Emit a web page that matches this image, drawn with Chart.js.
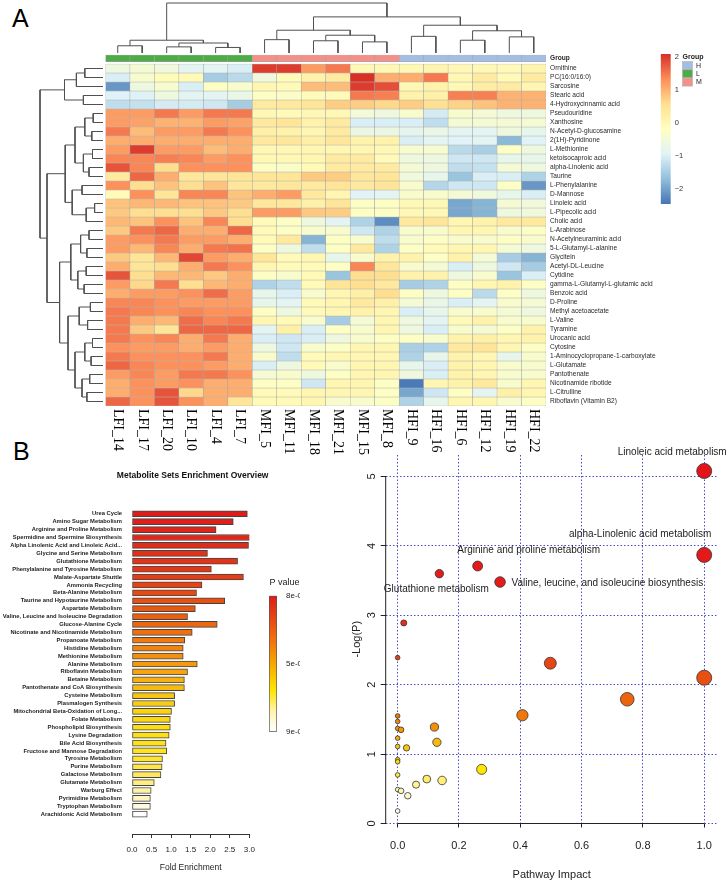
<!DOCTYPE html>
<html>
<head>
<meta charset="utf-8">
<script src="https://cdn.jsdelivr.net/npm/chart.js@4.4.1/dist/chart.umd.min.js"></script>
<style>
  body { margin: 0; background: #fff; width: 728px; height: 882px; position: relative; overflow: hidden; }
  canvas { position: absolute; }
  .tag { position: absolute; font: 25px "Liberation Sans", Arial, sans-serif; line-height: 25px; color: #000; }
</style>
</head>
<body>
<div class="tag" style="left:12px;top:6px">A</div>
<div class="tag" style="left:13px;top:439px">B</div>
<canvas id="colTree" width="450" height="54" style="left:100px;top:0px"></canvas>
<canvas id="rowTree" width="72" height="350" style="left:34px;top:60px"></canvas>
<canvas id="heat" width="560" height="430" style="left:100px;top:45px"></canvas>
<canvas id="heatKey" width="78" height="170" style="left:650px;top:45px"></canvas>
<canvas id="bars" width="300" height="442" style="left:0px;top:440px"></canvas>
<canvas id="pKey" width="50" height="180" style="left:250px;top:568px"></canvas>
<canvas id="bubbles" width="388" height="442" style="left:340px;top:440px"></canvas>
<script>
// ---- panel A : heatmap ----
const cols = ['LFI_14','LFI_17','LFI_20','LFI_10','LFI_4','LFI_7','MFI_5','MFI_11','MFI_18','MFI_21','MFI_15','MFI_8','HFI_9','HFI_16','HFI_6','HFI_12','HFI_19','HFI_22'];
const groups = ['L','L','L','L','L','L','M','M','M','M','M','M','H','H','H','H','H','H'];
const metabolites = ['Ornithine','PC(16:0/16:0)','Sarcosine','Stearic acid','4-Hydroxycinnamic acid','Pseudouridine','Xanthosine',
  'N-Acetyl-D-glucosamine','2(1H)-Pyridinone','L-Methionine','ketoisocaproic acid','alpha-Linolenic acid','Taurine','L-Phenylalanine',
  'D-Mannose','Linoleic acid','L-Pipecolic acid','Cholic acid','L-Arabinose','N-Acetylneuraminic acid','5-L-Glutamyl-L-alanine',
  'Glycitein','Acetyl-DL-Leucine','Cytidine','gamma-L-Glutamyl-L-glutamic acid','Benzoic acid','D-Proline','Methyl acetoacetate',
  'L-Valine','Tyramine','Urocanic acid','Cytosine','1-Aminocyclopropane-1-carboxylate','L-Glutamate','Pantothenate',
  'Nicotinamide ribotide','L-Citrulline','Riboflavin (Vitamin B2)'];
const zscores = [
  [-0.6,-0.45,-0.55,-0.85,-0.85,-1.0, 2.0,2.0,1.2, 1.5,0.0,0.0,0.0,0.1,0.0,0.0,-0.05,0.1],
  [-1.0,-0.35,-0.1,-0.05,-1.5,-1.3, -0.6,-0.1,0.15, 0.3,2.1,1.05,1.05,1.5,0.0,0.3,-0.05,0.3],
  [-2.1,-0.6,-0.4,-1.0,-0.25,-0.35, 0.05,-0.05,0.9, 0.9,2.0,1.85,0.0,0.15,0.0,0.25,0.3,0.05],
  [-0.95,-0.95,-0.6,-0.85,-0.85,-0.7, -0.25,-0.3,-0.05, -0.05,1.5,1.45,0.15,0.2,1.45,1.45,1.0,1.0],
  [-1.25,-1.2,-1.05,-1.05,-1.1,-1.5, 0.3,0.35,0.45, 0.75,0.75,0.65,0.75,0.55,0.7,0.85,1.0,1.0],
  [1.2,1.2,1.5,1.2,1.5,1.5, 0.0,-0.05,0.0, 0.0,-0.5,-0.6,-0.35,-1.05,-0.35,-0.45,-0.6,-0.6],
  [1.2,1.15,1.0,1.0,1.2,1.15, 0.35,0.45,0.15, 0.3,-1.0,-1.0,-1.0,-1.25,-0.45,-0.45,-0.45,-0.45],
  [1.5,0.9,1.2,1.2,1.5,1.3, 0.2,0.15,0.05, 0.3,-0.65,-0.65,-0.8,-0.7,-0.85,-0.85,-0.6,-0.75],
  [1.05,1.05,1.05,1.05,1.05,1.05, 0.35,0.4,0.2, 0.4,0.15,0.15,-1.0,-0.85,-0.9,-0.85,-1.75,-0.9],
  [1.2,2.0,1.2,1.2,0.9,1.05, 0.0,0.0,0.05, 0.05,0.05,0.0,-0.4,-0.4,-1.3,-1.45,-0.25,-0.6],
  [1.4,1.4,1.45,1.4,1.2,1.3, 0.0,0.0,0.05, 0.3,0.3,-0.05,-0.6,-0.6,-1.1,-1.1,-0.75,-0.75],
  [1.8,1.4,0.6,1.3,1.3,1.3, -0.25,-0.3,-0.05, 0.3,0.3,0.3,-0.45,-0.6,-1.25,-1.2,-0.45,-0.6],
  [0.35,1.65,1.05,0.4,0.45,0.45, 0.45,0.45,0.8, 0.75,0.4,0.45,-0.55,-0.75,-1.6,-1.0,-1.0,-1.4],
  [1.3,0.6,0.85,0.6,0.85,0.4, 0.35,0.4,0.35, 0.45,0.35,0.45,-0.35,-1.35,-1.1,-1.1,-0.25,-2.1],
  [-0.05,1.3,0.45,1.4,1.4,0.85, 1.05,1.2,0.35, 0.05,-0.9,-0.85,-0.35,-0.35,-0.45,-0.55,-0.75,-1.0],
  [0.85,0.95,0.95,0.85,0.85,0.8, 0.4,0.4,0.2, 0.45,-0.25,-0.25,0.0,0.0,-1.95,-1.8,-0.45,-0.55],
  [0.8,0.6,0.6,0.6,0.8,0.6, 1.2,1.2,0.8, 0.75,-0.25,-0.25,0.0,0.0,-1.95,-1.8,-0.6,-0.55],
  [0.95,0.85,1.3,0.85,1.4,0.6, -0.05,-0.25,-0.6, -0.85,-1.4,-2.2,0.35,0.45,0.05,0.15,0.35,0.35],
  [0.8,1.5,1.65,1.05,1.05,1.65, -0.05,-0.25,-0.35, -0.35,-1.1,-1.4,-0.35,-0.35,0.05,0.05,-0.35,-0.25],
  [1.2,1.3,1.5,1.2,1.2,1.05, -0.05,0.35,-1.8, -0.25,-0.35,-1.25,-0.35,-0.25,-0.35,-0.35,-0.25,-0.35],
  [1.2,0.95,1.4,1.05,1.5,1.55, -0.25,-0.6,-1.25, -0.25,0.35,-1.4,-0.25,-0.05,0.05,0.05,-0.45,-0.6],
  [0.8,0.45,0.95,1.9,1.2,1.05, 0.45,-0.05,0.05, -0.75,-0.35,0.15,0.15,-0.25,0.15,-0.45,-1.5,-1.8],
  [1.05,0.45,0.6,1.05,1.5,1.3, 0.05,-0.05,-0.05, -0.25,1.4,0.4,-0.35,-0.45,-1.0,-0.6,-1.1,-1.5],
  [1.8,0.6,0.95,0.95,0.8,1.05, -0.25,-0.35,-0.05, -1.6,0.6,0.6,0.15,0.15,-0.6,-0.35,-1.6,-1.0],
  [1.2,0.65,1.5,0.6,0.95,1.05, -1.4,-1.25,-0.05, 0.45,0.6,0.35,-1.5,-1.4,-0.25,0.05,0.15,-0.25],
  [1.05,1.2,1.2,1.3,1.6,1.2, -0.75,-1.0,-0.35, 0.05,0.2,0.6,-0.25,-0.6,-0.25,-1.3,-0.25,-0.6],
  [1.4,1.4,1.3,1.2,1.2,1.2, -0.75,-0.85,-0.05, 0.05,0.35,0.2,-0.45,-0.7,-1.0,-0.85,-0.35,-0.45],
  [1.5,1.4,1.3,1.4,1.3,1.3, -0.25,-0.6,-0.05, 0.05,0.15,0.05,-1.0,-0.75,-0.35,-0.35,-0.45,-0.6],
  [1.5,1.05,0.95,1.6,1.4,1.5, 0.05,-0.05,-0.35, -1.5,-0.45,0.05,-0.6,-0.85,-0.05,0.15,-0.35,-0.35],
  [1.5,0.8,0.45,1.65,1.65,1.65, -0.85,0.2,-1.0, -0.25,-0.35,0.05,-0.6,-1.0,-0.35,-0.45,-0.25,0.15],
  [1.5,1.3,1.4,1.05,1.5,1.05, -1.0,-1.1,-1.0, -0.6,-0.35,-0.25,-0.25,-0.35,0.15,0.2,0.05,0.15],
  [1.3,1.2,1.2,1.05,1.2,1.05, -0.6,-1.1,-0.35, -0.25,0.05,0.05,-1.45,-1.4,0.35,0.45,0.05,-0.25],
  [1.5,1.3,1.3,1.3,1.5,1.05, -0.35,-1.25,-0.05, 0.05,0.05,0.05,-1.4,-0.75,0.15,0.05,-0.75,-0.35],
  [1.65,1.4,1.3,1.3,1.2,1.05, -1.0,-0.6,-0.05, -0.35,0.05,0.05,-0.75,-1.0,0.15,0.05,-0.35,-0.35],
  [1.2,1.4,1.2,1.5,1.5,1.3, -0.45,-0.35,-0.6, -0.25,0.05,0.05,-0.6,-1.0,0.15,0.05,-0.35,-0.35],
  [1.05,1.3,1.2,1.3,1.05,1.05, -0.25,-0.25,-1.1, 0.05,0.05,-0.25,-2.4,0.05,0.15,0.35,-0.35,0.05],
  [1.05,1.3,1.8,0.65,1.05,1.05, -0.05,-0.05,0.05, 0.05,0.05,-0.25,-1.95,-1.1,-0.25,-0.85,0.2,0.05],
  [1.65,1.3,1.8,1.3,1.05,0.45, -0.05,-0.05,0.05, -0.35,-0.35,-0.25,-1.4,-0.75,0.05,0.05,-0.35,-0.25]
];
// dendrograms as [height, left, right]; numbers are leaf positions
const colTree = [9.0,
  [2.3, [1.3, 0, 1], [1.8, [1.1, 2, 3], [1.0, 4, 5]]],
  [6.5, [4.1, [2.4, 6, 7], [3.2, [2.2, 8, 9], [2.0, 10, 11]]],
        [5.0, [3.0, 12, 13], [4.0, [2.3, 14, 15], [2.9, 16, 17]]]]];
const rowTree = [9.0,
  [5.5, [3.8, [2.6, 0, 1], 2], [2.8, 3, 4]],
  [8.0,
    [5.4, [4.0, [2.6, [1.4, 5, 6], [1.6, 7, 8]], [2.8, [1.5, 9, 10], [2.0, 11, 12]]],
          [4.4, [3.0, 13, 14], [2.4, [1.2, 15, 16], 17]]],
    [6.2, [4.6, [3.2, [2.0, 18, 19], [2.3, 20, 21]], [3.6, [2.4, 22, 23], [2.7, 24, 25]]],
          [5.0, [3.4, [1.8, 26, 27], [2.2, 28, 29]],
                [4.0, [2.6, [1.5, 30, 31], [1.7, 32, 33]], [3.0, [1.9, 34, 35], [2.3, 36, 37]]]]]]];
const heatTicks = [-2, -1, 0, 1, 2];
const groupNames = ['H', 'L', 'M'];

// ---- panel B : enrichment overview ----
const setNames = ['Urea Cycle','Amino Sugar Metabolism','Arginine and Proline Metabolism','Spermidine and Spermine Biosynthesis',
  'Alpha Linolenic Acid and Linoleic Acid...','Glycine and Serine Metabolism','Glutathione Metabolism',
  'Phenylalanine and Tyrosine Metabolism','Malate-Aspartate Shuttle','Ammonia Recycling','Beta-Alanine Metabolism',
  'Taurine and Hypotaurine Metabolism','Aspartate Metabolism','Valine, Leucine and Isoleucine Degradation',
  'Glucose-Alanine Cycle','Nicotinate and Nicotinamide Metabolism','Propanoate Metabolism','Histidine Metabolism',
  'Methionine Metabolism','Alanine Metabolism','Riboflavin Metabolism','Betaine Metabolism',
  'Pantothenate and CoA Biosynthesis','Cysteine Metabolism','Plasmalogen Synthesis',
  'Mitochondrial Beta-Oxidation of Long...','Folate Metabolism','Phospholipid Biosynthesis','Lysine Degradation',
  'Bile Acid Biosynthesis','Fructose and Mannose Degradation','Tyrosine Metabolism','Purine Metabolism',
  'Galactose Metabolism','Glutamate Metabolism','Warburg Effect','Pyrimidine Metabolism','Tryptophan Metabolism',
  'Arachidonic Acid Metabolism'];
const foldEnrichment = [2.95,2.59,2.15,3.17,2.98,1.93,2.70,2.03,2.85,1.79,1.65,2.37,1.62,1.42,2.18,1.54,1.35,1.31,1.31,1.67,
  1.42,1.34,1.34,1.09,1.09,1.01,0.98,0.98,0.95,0.87,0.89,0.78,0.77,0.74,0.57,0.49,0.47,0.47,0.39];
const foldTicks = [0, 0.5, 1, 1.5, 2, 2.5, 3];
const pTickLabels = ['9e-01', '5e-01', '8e-02'];

// ---- panel B : pathway impact ----
const impact = [1.0,1.0,0.261,0.136,0.334,0.020,0.0,0.498,1.0,0.749,0.407,0.0,0.0,0.0,0.011,0.12,0.0,0.128,0.0,0.029,
  0.0,0.0,0.274,0.0,0.095,0.145,0.06,0.0,0.011,0.033,0.0];
const logP = [5.08,3.87,3.71,3.60,3.48,2.89,2.39,2.31,2.10,1.79,1.56,1.55,1.47,1.37,1.35,1.39,1.23,1.17,1.11,1.09,
  0.92,0.89,0.78,0.70,0.64,0.62,0.56,0.49,0.47,0.40,0.18];
const pathwayNames = ['Linoleic acid metabolism','alpha-Linolenic acid metabolism','Arginine and proline metabolism',
  'Glutathione metabolism','Valine, leucine, and isoleucine biosynthesis'];
const impactTicks = [0, 0.2, 0.4, 0.6, 0.8, 1.0];
const logPTicks = [0, 1, 2, 3, 4, 5];

// ---- styling ----
const SANS = '"Liberation Sans", Arial, sans-serif';
Chart.defaults.font.family = SANS;
Chart.defaults.color = '#222';
Chart.defaults.animation = false;
Chart.defaults.responsive = false;
Chart.defaults.devicePixelRatio = 1;
Chart.defaults.plugins.legend.display = false;
Chart.defaults.plugins.tooltip.enabled = false;

const heatStops = [[-2.45,'#4575b4'],[-1.69,'#91bfdb'],[-0.93,'#e0f3f8'],[-0.18,'#ffffbf'],[0.58,'#fee090'],[1.34,'#fc8d59'],[2.1,'#d73027']];
const groupColors = { H: '#a3bde3', L: '#4dab48', M: '#f39189' };
const barStops = [[0,'#dd1c1c'],[0.2,'#e43a18'],[0.3,'#e9520f'],[0.4,'#ef7010'],[0.5,'#f49a10'],[0.6,'#f8c410'],
  [0.7,'#fcdc10'],[0.8,'#ffe420'],[0.87,'#ffe860'],[0.92,'#fff2a5'],[0.97,'#fff8d8'],[1,'#ffffff']];
const pStops = [[0,'#ffffff'],[0.15,'#fff4b0'],[0.3,'#ffe600'],[0.5,'#f6a800'],[0.7,'#ef6a10'],[1,'#dd1a1a']];
const bubbleStops = [[0.15,'#ffffff'],[0.45,'#fff6c0'],[0.6,'#fff08a'],[0.78,'#ffe600'],[1.1,'#f8c510'],[1.4,'#f29005'],
  [1.6,'#ee720a'],[2.0,'#e9540f'],[2.5,'#e43c1a'],[3.4,'#e31c1a'],[5.1,'#e3151a']];
const noteStyle = [
  { dx: -32, dy: -19, align: 'center' },
  { dx: -64, dy: -21, align: 'center' },
  { dx: 51, dy: -16, align: 'center' },
  { dx: -3, dy: 16, align: 'center' },
  { dx: 11.5, dy: 1, align: 'left' }
];
const noAxisGrid = { display: false, drawTicks: false };

function hexRgb(h) { const n = parseInt(h.slice(1), 16); return [n >> 16 & 255, n >> 8 & 255, n & 255]; }
function ramp(stops, v) {
  if (v <= stops[0][0]) return stops[0][1];
  for (let i = 1; i < stops.length; i++) {
    if (v <= stops[i][0]) {
      const t = (v - stops[i - 1][0]) / (stops[i][0] - stops[i - 1][0]);
      const a = hexRgb(stops[i - 1][1]), b = hexRgb(stops[i][1]);
      return 'rgb(' + a.map((c, k) => Math.round(c + (b[k] - c) * t)).join(',') + ')';
    }
  }
  return stops[stops.length - 1][1];
}

// dendrogram -> list of 4-point links
function links(node, out) {
  if (typeof node === 'number') return { p: node + 0.5, h: 0 };
  const [h, a, b] = node;
  const L = links(a, out), R = links(b, out);
  out.push([[L.p, L.h], [L.p, h], [R.p, h], [R.p, R.h]]);
  return { p: (L.p + R.p) / 2, h };
}
const treeLine = { showLine: true, pointRadius: 0, borderColor: '#505050', borderWidth: 1, clip: false };
const hidden = { display: false };

// column dendrogram
const colLinks = []; links(colTree, colLinks);
new Chart(document.getElementById('colTree'), {
  type: 'scatter',
  data: { datasets: colLinks.map(l => ({ ...treeLine, data: l.map(([p, h]) => ({ x: p, y: h })) })) },
  options: {
    layout: { padding: { left: 5.5, right: 4, top: 3, bottom: 1 } },
    scales: { x: { ...hidden, min: 0, max: cols.length }, y: { ...hidden, min: 0, max: colTree[0] } }
  }
});

// row dendrogram
const rowLinks = []; links(rowTree, rowLinks);
new Chart(document.getElementById('rowTree'), {
  type: 'scatter',
  data: { datasets: rowLinks.map(l => ({ ...treeLine, data: l.map(([p, h]) => ({ x: h, y: p })) })) },
  options: {
    layout: { padding: { left: 6, right: 3, top: 4, bottom: 4 } },
    scales: {
      x: { ...hidden, reverse: true, min: 0, max: rowTree[0] },
      y: { ...hidden, reverse: true, min: 0, max: metabolites.length }
    }
  }
});

// heatmap as floating bars
const cellStyle = { borderColor: '#a4a4a4', borderWidth: 0.5, borderSkipped: false, grouped: false,
  barPercentage: 1, categoryPercentage: 1 };
const heatSets = metabolites.map((m, r) => ({
  ...cellStyle, data: cols.map(() => [r, r + 1]), backgroundColor: zscores[r].map(v => ramp(heatStops, v))
}));
heatSets.unshift({ ...cellStyle, data: cols.map(() => [-1, -0.25]), backgroundColor: groups.map(g => groupColors[g]) });

const colLabels = {
  id: 'colLabels',
  afterDraw(chart) {
    const { ctx, chartArea, scales: { x } } = chart;
    ctx.save();
    ctx.font = '14px "Liberation Serif", "Times New Roman", serif';
    ctx.fillStyle = '#000';
    ctx.textAlign = 'left';
    ctx.textBaseline = 'middle';
    cols.forEach((c, i) => {
      ctx.save();
      ctx.translate(x.getPixelForValue(i), chartArea.bottom + 3);
      ctx.rotate(Math.PI / 2);
      ctx.fillText(c, 0, 0);
      ctx.restore();
    });
    ctx.restore();
  }
};
new Chart(document.getElementById('heat'), {
  type: 'bar',
  data: { labels: cols, datasets: heatSets },
  options: {
    layout: { padding: { left: 5.5, top: 9.1, bottom: 69 } },
    scales: {
      x: { display: false },
      y: {
        type: 'linear', reverse: true, min: -1.1, max: metabolites.length, position: 'right',
        grid: noAxisGrid, border: { display: false },
        afterBuildTicks: ax => { ax.ticks = [{ value: -0.62 }].concat(metabolites.map((m, i) => ({ value: i + 0.5 }))); },
        afterFit: ax => { ax.width = 114; },
        ticks: {
          autoSkip: false, padding: 4, color: '#2a2a2a',
          font: c => ({ family: SANS, size: 6.6, weight: c.index === 0 ? 'bold' : 'normal' }),
          callback: (v, i) => i === 0 ? 'Group' : metabolites[i - 1]
        }
      }
    }
  },
  plugins: [colLabels]
});

// heatmap colour key + group legend
const groupLegend = {
  id: 'groupLegend',
  afterDraw(chart) {
    const { ctx } = chart;
    ctx.save();
    ctx.fillStyle = '#222';
    ctx.textBaseline = 'middle';
    ctx.font = 'bold 7px ' + SANS;
    ctx.fillText('Group', 32.5, 12);
    ctx.font = '7px ' + SANS;
    groupNames.forEach((g, i) => {
      ctx.fillStyle = groupColors[g];
      ctx.fillRect(32.5, 16.5 + i * 8.3, 10, 8);
      ctx.strokeStyle = '#b0b0b0';
      ctx.lineWidth = 0.6;
      ctx.strokeRect(32.5, 16.5 + i * 8.3, 10, 8);
      ctx.fillStyle = '#222';
      ctx.fillText(g, 46, 20.7 + i * 8.3);
    });
    ctx.restore();
  }
};
new Chart(document.getElementById('heatKey'), {
  type: 'bar',
  data: {
    labels: [''],
    datasets: [{
      data: [[heatStops[0][0], heatStops[heatStops.length - 1][0]]],
      barPercentage: 1, categoryPercentage: 1, borderWidth: 0,
      backgroundColor: ctx => {
        const { chart } = ctx;
        if (!chart.chartArea) return '#fff';
        const y = chart.scales.y, lo = heatStops[0][0], hi = heatStops[heatStops.length - 1][0];
        const g = chart.ctx.createLinearGradient(0, y.getPixelForValue(lo), 0, y.getPixelForValue(hi));
        heatStops.forEach(([v, c]) => g.addColorStop((v - lo) / (hi - lo), c));
        return g;
      }
    }]
  },
  options: {
    layout: { padding: { left: 10.7, top: 9, bottom: 11 } },
    scales: {
      x: { display: false },
      y: {
        position: 'right', min: heatStops[0][0], max: heatStops[heatStops.length - 1][0],
        grid: noAxisGrid, border: { display: false },
        afterBuildTicks: ax => { ax.ticks = heatTicks.map(v => ({ value: v })); },
        afterFit: ax => { ax.width = 57.3; },
        ticks: { padding: 4, font: { size: 7.5 }, color: '#333', callback: v => v < 0 ? '\u2212' + Math.abs(v) : String(v) }
      }
    }
  },
  plugins: [groupLegend]
});

// enrichment bars
const barTitle = {
  id: 'barTitle',
  afterDraw(chart) {
    const { ctx, chartArea } = chart;
    ctx.save();
    ctx.font = 'bold 8.5px ' + SANS;
    ctx.fillStyle = '#111';
    ctx.textAlign = 'center';
    ctx.textBaseline = 'middle';
    ctx.fillText('Metabolite Sets Enrichment Overview', (chartArea.left + chartArea.right) / 2 + 2, 35.5);
    ctx.restore();
  }
};
new Chart(document.getElementById('bars'), {
  type: 'bar',
  data: {
    datasets: [{
      data: setNames.map((n, i) => ({ x: foldEnrichment[i], y: i })),
      backgroundColor: setNames.map((n, i) => ramp(barStops, i / (setNames.length - 1))),
      borderColor: '#444', borderWidth: 1, borderSkipped: false, barThickness: 6
    }]
  },
  options: {
    indexAxis: 'y',
    layout: { padding: { right: 50.7, top: 64.8 } },
    scales: {
      x: {
        type: 'linear', min: 0, max: 3,
        afterBuildTicks: ax => { ax.ticks = foldTicks.map(v => ({ value: v })); },
        afterFit: ax => { ax.height = 48; },
        grid: { drawOnChartArea: false, tickLength: 4, tickColor: '#333' },
        border: { color: '#333', width: 1 },
        ticks: { padding: 7, font: { size: 8 }, color: '#222', callback: v => v.toFixed(1) },
        title: { display: true, text: 'Fold Enrichment', font: { size: 8.5 }, color: '#222', padding: { top: 0, bottom: 9 } }
      },
      y: {
        type: 'linear', reverse: true, min: -0.6, max: 39.97,
        grid: noAxisGrid, border: { display: false },
        afterBuildTicks: ax => { ax.ticks = setNames.map((n, i) => ({ value: i })); },
        afterFit: ax => { ax.width = 132; },
        ticks: { autoSkip: false, padding: 10, font: { size: 5.8, weight: 'bold' }, color: '#222', callback: (v, i) => setNames[i] }
      }
    }
  },
  plugins: [barTitle]
});

// P value key
new Chart(document.getElementById('pKey'), {
  type: 'bar',
  data: {
    labels: [''],
    datasets: [{
      data: [[0, 1]], barPercentage: 1, categoryPercentage: 1, borderWidth: 1, borderColor: '#555', borderSkipped: false,
      backgroundColor: ctx => {
        const { chart } = ctx;
        if (!chart.chartArea) return '#fff';
        const y = chart.scales.y;
        const g = chart.ctx.createLinearGradient(0, y.getPixelForValue(0), 0, y.getPixelForValue(1));
        pStops.forEach(([v, c]) => g.addColorStop(v, c));
        return g;
      }
    }]
  },
  options: {
    layout: { padding: { left: 19, bottom: 16.3 } },
    plugins: {
      title: { display: true, text: 'P value', fullSize: true, font: { size: 9, weight: 'normal' }, color: '#222', padding: { top: 9.6, bottom: 7.3 } }
    },
    scales: {
      x: { display: false },
      y: {
        position: 'right', min: 0, max: 1,
        grid: noAxisGrid, border: { display: false },
        afterBuildTicks: ax => { ax.ticks = pTickLabels.map((s, i) => ({ value: i / (pTickLabels.length - 1) })); },
        afterFit: ax => { ax.width = 23; },
        ticks: { padding: 9, font: { size: 8 }, color: '#222', callback: (v, i) => pTickLabels[i] }
      }
    }
  }
});

// pathway impact bubbles
const bubbleDecor = {
  id: 'bubbleDecor',
  afterDraw(chart) {
    const { ctx, chartArea, scales: { x, y } } = chart;
    ctx.save();
    ctx.strokeStyle = '#222';
    ctx.lineWidth = 1;
    ctx.beginPath();
    ctx.moveTo(chartArea.left, y.getPixelForValue(logPTicks[0]));
    ctx.lineTo(chartArea.left, y.getPixelForValue(logPTicks[logPTicks.length - 1]));
    ctx.moveTo(x.getPixelForValue(impactTicks[0]), chartArea.bottom);
    ctx.lineTo(x.getPixelForValue(impactTicks[impactTicks.length - 1]), chartArea.bottom);
    ctx.stroke();
    ctx.fillStyle = '#222';
    ctx.font = '11px ' + SANS;
    ctx.textAlign = 'center';
    ctx.textBaseline = 'middle';
    logPTicks.forEach(v => {
      ctx.save();
      ctx.translate(chartArea.left - 14, y.getPixelForValue(v));
      ctx.rotate(-Math.PI / 2);
      ctx.fillText(String(v), 0, 0);
      ctx.restore();
    });
    ctx.font = '10px ' + SANS;
    pathwayNames.forEach((name, i) => {
      const s = noteStyle[i];
      ctx.textAlign = s.align;
      ctx.fillText(name, x.getPixelForValue(impact[i]) + s.dx, y.getPixelForValue(logP[i]) + s.dy);
    });
    ctx.restore();
  }
};
new Chart(document.getElementById('bubbles'), {
  type: 'scatter',
  data: {
    datasets: [{
      data: impact.map((v, i) => ({ x: v, y: logP[i] })),
      pointRadius: c => 2.3 + 5.2 * Math.sqrt(c.raw.x),
      pointBackgroundColor: c => ramp(bubbleStops, c.raw.y),
      pointBorderColor: '#333', pointBorderWidth: 0.8, clip: false
    }]
  },
  options: {
    layout: { padding: { top: 15, right: 10.3 } },
    scales: {
      x: {
        type: 'linear', min: -0.039, max: 1.044,
        afterBuildTicks: ax => { ax.ticks = impactTicks.map(v => ({ value: v })); },
        afterFit: ax => { ax.height = 58.5; },
        grid: { color: '#4a4acb', lineWidth: 1, tickColor: '#222', tickLength: 4, tickBorderDash: [] },
        border: { display: false, dash: [1.5, 2] },
        ticks: { padding: 12, font: { size: 11 }, color: '#222', callback: v => v.toFixed(1) },
        title: { display: true, text: 'Pathway Impact', font: { size: 11 }, color: '#222', padding: { top: 0, bottom: 0.5 } }
      },
      y: {
        type: 'linear', min: 0, max: 5.31,
        afterBuildTicks: ax => { ax.ticks = logPTicks.map(v => ({ value: v })); },
        afterFit: ax => { ax.width = 45.7; },
        grid: { color: '#4a4acb', lineWidth: 1, tickColor: '#222', tickLength: 5, tickBorderDash: [] },
        border: { display: false, dash: [1.5, 2] },
        ticks: { display: false },
        title: { display: true, text: '-Log(P)', font: { size: 11 }, color: '#222', padding: { top: 10.4, bottom: 0 } }
      }
    }
  },
  plugins: [bubbleDecor]
});
</script>
</body>
</html>
